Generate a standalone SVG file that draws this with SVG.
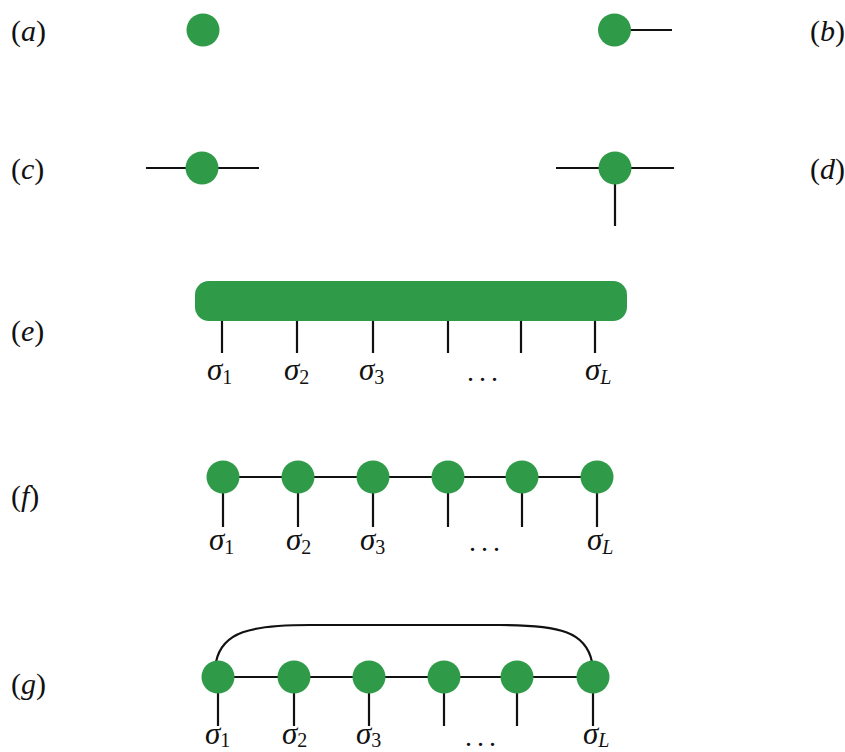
<svg xmlns="http://www.w3.org/2000/svg" width="845" height="752" viewBox="0 0 845 752">
<style>
.n{fill:#2f9a48}
.w{stroke:#111;stroke-width:2.2;fill:none}
.t{font-family:"Liberation Serif","DejaVu Serif",serif;font-size:30px;fill:#111}
.s{font-family:"Liberation Serif","DejaVu Serif",serif;font-size:31px;font-style:italic;fill:#111}
.d{font-family:"Liberation Serif","DejaVu Serif",serif;font-size:28px;fill:#111;letter-spacing:5px}
.sub{font-size:20px;font-style:normal}
.subi{font-size:20px;font-style:italic}
</style>
<rect width="845" height="752" fill="#fff"/>
<g id="connectors">
<line class="w" x1="614" y1="30" x2="672" y2="30"/>
<line class="w" x1="146" y1="168" x2="259" y2="168"/>
<line class="w" x1="556" y1="168" x2="674" y2="168"/>
<line class="w" x1="615" y1="168" x2="615" y2="226"/>
<line class="w" x1="222" y1="318" x2="222" y2="353"/>
<line class="w" x1="297" y1="318" x2="297" y2="353"/>
<line class="w" x1="373" y1="318" x2="373" y2="353"/>
<line class="w" x1="448" y1="318" x2="448" y2="353"/>
<line class="w" x1="521" y1="318" x2="521" y2="353"/>
<line class="w" x1="595" y1="318" x2="595" y2="353"/>
<line class="w" x1="223" y1="477" x2="597" y2="477"/>
<line class="w" x1="223" y1="477" x2="223" y2="527"/>
<line class="w" x1="298" y1="477" x2="298" y2="527"/>
<line class="w" x1="373" y1="477" x2="373" y2="527"/>
<line class="w" x1="448" y1="477" x2="448" y2="527"/>
<line class="w" x1="522" y1="477" x2="522" y2="527"/>
<line class="w" x1="597" y1="477" x2="597" y2="527"/>
<line class="w" x1="218" y1="677" x2="593" y2="677"/>
<line class="w" x1="218" y1="677" x2="218" y2="726"/>
<line class="w" x1="294" y1="677" x2="294" y2="726"/>
<line class="w" x1="369" y1="677" x2="369" y2="726"/>
<line class="w" x1="444" y1="677" x2="444" y2="726"/>
<line class="w" x1="517" y1="677" x2="517" y2="726"/>
<line class="w" x1="593" y1="677" x2="593" y2="726"/>
<path class="w" d="M216,662 C222,632 250,625 310,625 L500,625 C560,625 586,632 592,662"/>
</g>
<g id="a"><circle class="n" cx="203" cy="30" r="16.5"/></g>
<g id="b"><circle class="n" cx="614.5" cy="30" r="16.5"/></g>
<g id="c"><circle class="n" cx="202" cy="168" r="16.5"/></g>
<g id="d"><circle class="n" cx="615" cy="168" r="16.5"/></g>
<g id="e"><rect class="n" x="195" y="281" width="432" height="40" rx="14"/></g>
<g id="f">
<circle class="n" cx="223" cy="477" r="16.5"/>
<circle class="n" cx="298" cy="477" r="16.5"/>
<circle class="n" cx="373" cy="477" r="16.5"/>
<circle class="n" cx="448" cy="477" r="16.5"/>
<circle class="n" cx="522" cy="477" r="16.5"/>
<circle class="n" cx="597" cy="477" r="16.5"/>
</g>
<g id="g">
<circle class="n" cx="218" cy="677" r="16.5"/>
<circle class="n" cx="294" cy="677" r="16.5"/>
<circle class="n" cx="369" cy="677" r="16.5"/>
<circle class="n" cx="444" cy="677" r="16.5"/>
<circle class="n" cx="517" cy="677" r="16.5"/>
<circle class="n" cx="593" cy="677" r="16.5"/>
</g>
<g id="labels">
<text class="t" x="11" y="41">(<tspan font-style="italic">a</tspan>)</text>
<text class="t" x="810" y="41">(<tspan font-style="italic">b</tspan>)</text>
<text class="t" x="11" y="179">(<tspan font-style="italic">c</tspan>)</text>
<text class="t" x="810" y="179">(<tspan font-style="italic">d</tspan>)</text>
<text class="t" x="11" y="341">(<tspan font-style="italic">e</tspan>)</text>
<text class="t" x="11" y="506">(<tspan font-style="italic">f</tspan>)</text>
<text class="t" x="11" y="694">(<tspan font-style="italic">g</tspan>)</text>
</g>
<g id="sigma-e">
<text class="s" x="207" y="380">σ<tspan class="sub" dy="4">1</tspan></text>
<text class="s" x="284" y="380">σ<tspan class="sub" dy="4">2</tspan></text>
<text class="s" x="359" y="380">σ<tspan class="sub" dy="4">3</tspan></text>
<text class="d" x="467" y="381">...</text>
<text class="s" x="585" y="380">σ<tspan class="subi" dy="4">L</tspan></text>
</g>
<g id="sigma-f">
<text class="s" x="209" y="550">σ<tspan class="sub" dy="4">1</tspan></text>
<text class="s" x="286" y="550">σ<tspan class="sub" dy="4">2</tspan></text>
<text class="s" x="360" y="550">σ<tspan class="sub" dy="4">3</tspan></text>
<text class="d" x="469" y="551">...</text>
<text class="s" x="587" y="550">σ<tspan class="subi" dy="4">L</tspan></text>
</g>
<g id="sigma-g">
<text class="s" x="205" y="744">σ<tspan class="sub" dy="3">1</tspan></text>
<text class="s" x="282" y="744">σ<tspan class="sub" dy="3">2</tspan></text>
<text class="s" x="356" y="744">σ<tspan class="sub" dy="3">3</tspan></text>
<text class="d" x="465" y="746">...</text>
<text class="s" x="583" y="744">σ<tspan class="subi" dy="3">L</tspan></text>
</g>
</svg>
